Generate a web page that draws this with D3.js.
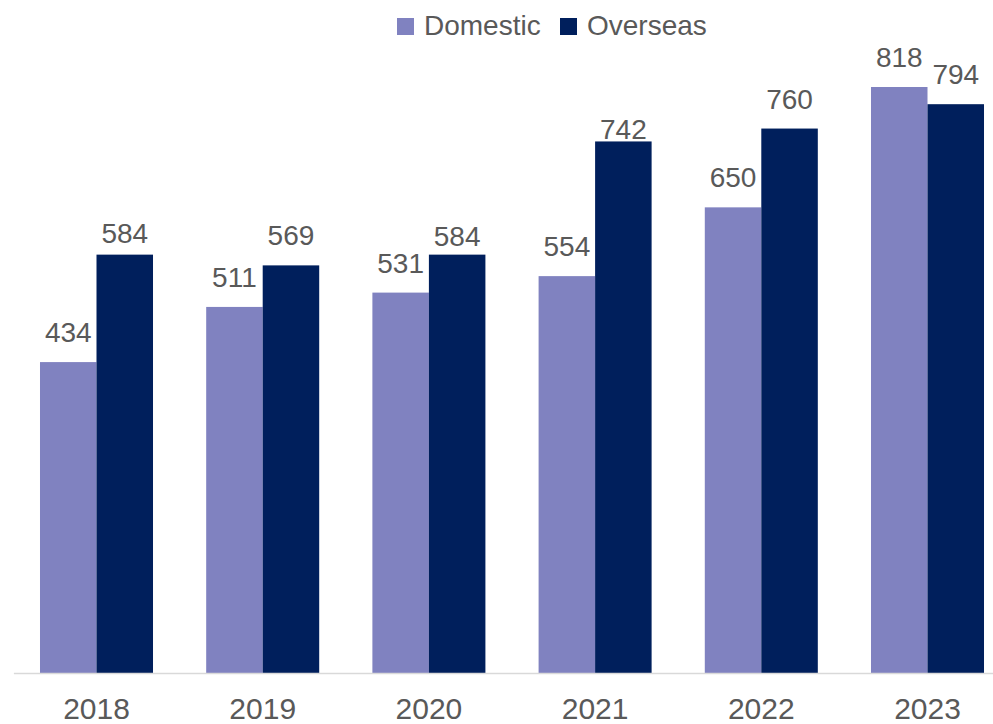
<!DOCTYPE html>
<html>
<head>
<meta charset="utf-8">
<script src="https://cdn.jsdelivr.net/npm/d3@7"></script>
<style>
  html, body { margin: 0; padding: 0; background: #fff; }
  svg { display: block; }
  text { font-family: "Liberation Sans", Arial, sans-serif; fill: #595959; }
</style>
</head>
<body>
<svg id="chart" width="993" height="724"></svg>
<script>
// Annual totals by market
const years = ["2018", "2019", "2020", "2021", "2022", "2023"];
const domestic = [434, 511, 531, 554, 650, 818];
const overseas = [584, 569, 584, 742, 760, 794];
const seriesNames = ["Domestic", "Overseas"];
const seriesColors = ["#8082C0", "#001F5C"];

const svg = d3.select("#chart");
const baseY = 673;

// value labels sit 20px above their bar; a few were nudged closer
const labelGap = 20;
const labelGapOverride = { "2018|Overseas": 12, "2020|Overseas": 9, "2021|Overseas": 2 };

const x0 = d3.scaleBand()
  .domain(years)
  .range([13.4, 1010.6])
  .paddingInner(0.32)
  .paddingOuter(0.16);

const x1 = d3.scaleBand()
  .domain(seriesNames)
  .range([0, x0.bandwidth()]);

const y = d3.scaleLinear()
  .domain([0, 818])
  .range([baseY, 87]);

const rows = years.map((yr, i) => ({
  year: yr,
  values: [
    { year: yr, key: "Domestic", value: domestic[i] },
    { year: yr, key: "Overseas", value: overseas[i] }
  ]
}));

const color = d3.scaleOrdinal().domain(seriesNames).range(seriesColors);

const groups = svg.append("g")
  .selectAll("g")
  .data(rows)
  .join("g")
  .attr("transform", d => `translate(${x0(d.year)},0)`);

groups.selectAll("rect")
  .data(d => d.values)
  .join("rect")
  .attr("x", d => x1(d.key))
  .attr("y", d => y(d.value))
  .attr("width", x1.bandwidth())
  .attr("height", d => baseY - y(d.value))
  .attr("fill", d => color(d.key));

groups.selectAll("text.val")
  .data(d => d.values)
  .join("text")
  .attr("class", "val")
  .attr("x", d => x1(d.key) + x1.bandwidth() / 2)
  .attr("y", d => {
    const g = labelGapOverride[d.year + "|" + d.key];
    return y(d.value) - (g === undefined ? labelGap : g);
  })
  .attr("text-anchor", "middle")
  .style("font-size", "28px")
  .text(d => d.value);

// category axis
const axis = d3.axisBottom(x0).tickSize(0).tickPadding(0);
const gx = svg.append("g")
  .attr("transform", `translate(0,${baseY})`)
  .call(axis);
gx.select(".domain").attr("stroke", "#D9D9D9").attr("stroke-width", 1.5);
gx.selectAll(".tick text")
  .attr("dy", null)
  .attr("y", 46)
  .style("font-size", "30px")
  .style("font-family", "'Liberation Sans', Arial, sans-serif")
  .attr("fill", "#595959");

// legend
const legend = svg.append("g");
const legendItems = [
  { name: "Domestic", x: 397 },
  { name: "Overseas", x: 560 }
];
legendItems.forEach(item => {
  legend.append("rect")
    .attr("x", item.x).attr("y", 18)
    .attr("width", 17).attr("height", 17)
    .attr("fill", color(item.name));
  legend.append("text")
    .attr("x", item.x + 27).attr("y", 35)
    .style("font-size", "28px")
    .text(item.name);
});
</script>
</body>
</html>
